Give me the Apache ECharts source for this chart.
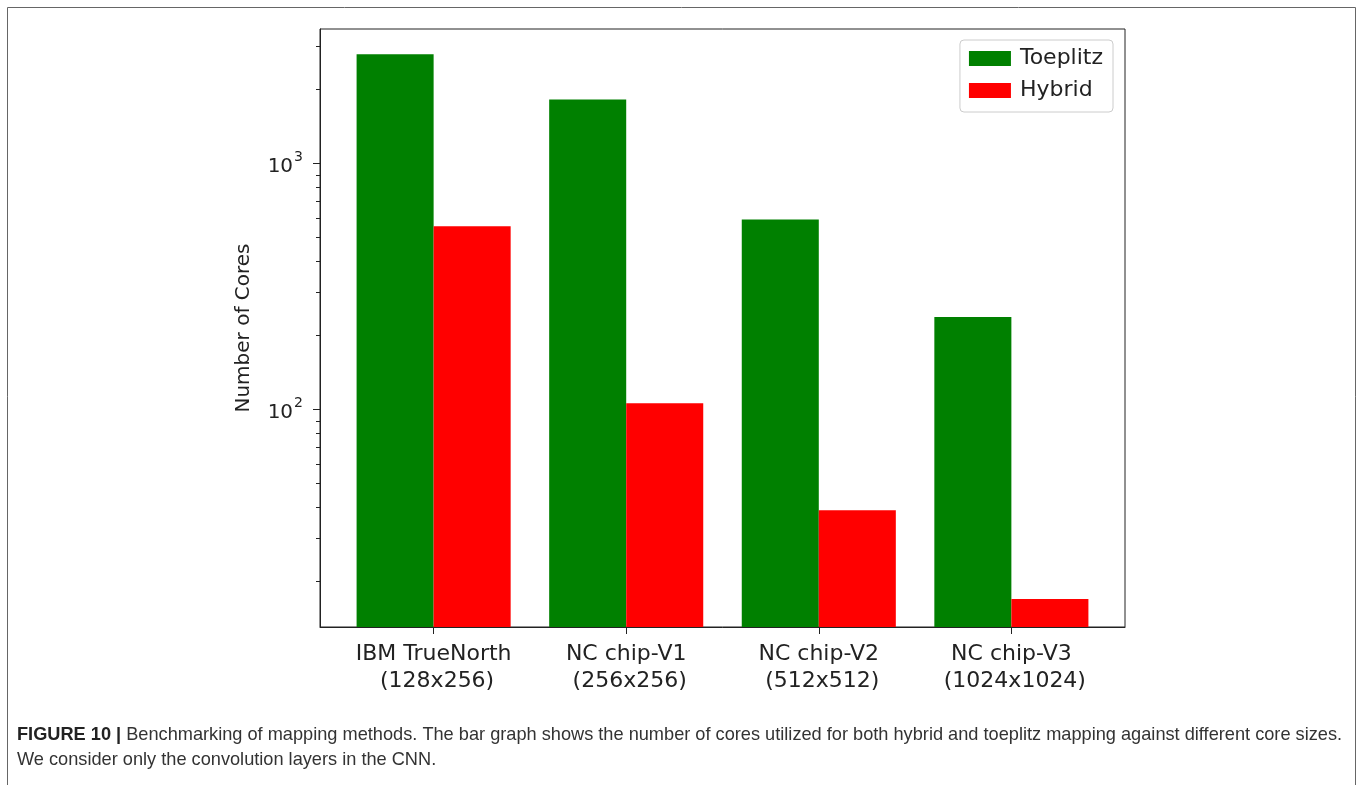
<!DOCTYPE html>
<html>
<head>
<meta charset="utf-8">
<title>Number of cores per mapping method</title>
<script src="https://cdn.jsdelivr.net/npm/echarts@6/dist/echarts.min.js"></script>
<style>
  html, body { margin: 0; padding: 0; background: #ffffff; }
  #chart { width: 1358px; height: 785px; }
</style>
</head>
<body>
<div id="chart"></div>
<script>
// Core sizes compared (x axis categories)
const categories = [
  'IBM TrueNorth\n (128x256)',
  'NC chip-V1\n (256x256)',
  'NC chip-V2\n (512x512)',
  'NC chip-V3\n (1024x1024)'
];

// Number of cores used by each mapping method
const toeplitzCores = [2782, 1821, 592, 238];
const hybridCores = [556, 106, 39, 17];

// Log axis range and tick values
const yMin = 13.07;
const yMax = 3524;
const yMajorTicks = [100, 1000];
const yMinorTicks = [20, 30, 40, 50, 60, 70, 80, 90, 200, 300, 400, 500, 600, 700, 800, 900, 2000, 3000];

// Category positions on a numeric x axis, with padding around the outer bars
const xMin = -0.59;
const xMax = 3.59;
const barFraction = 0.4;

const captionBold = 'FIGURE 10 |';
const captionLine1 = ' Benchmarking of mapping methods. The bar graph shows the number of cores utilized for both hybrid and toeplitz mapping against different core sizes.';
const captionLine2 = 'We consider only the convolution layers in the CNN.';

const GRID = { left: 320, top: 29, width: 805, height: 598 };
const barPx = barFraction * GRID.width / (xMax - xMin);
const xPositions = categories.map((c, i) => i);

const tickFont = 'DejaVu Sans';
const captionFont = '"Liberation Sans", Arial, sans-serif';
const textColor = '#222222';

const chart = echarts.init(document.getElementById('chart'), null, { renderer: 'canvas' });

const supLabel = v => {
  const p = Math.round(Math.log10(v));
  return '{b|10}{s|' + p + '}';
};

const option = {
  backgroundColor: '#ffffff',
  animation: false,
  grid: {
    left: GRID.left, top: GRID.top, width: GRID.width, height: GRID.height,
    show: true, borderColor: '#222222', borderWidth: 1, backgroundColor: 'transparent',
    containLabel: false
  },
  legend: {
    orient: 'vertical',
    right: 1358 - 1113,
    top: 40,
    padding: [6, 10, 9, 9],
    itemGap: 7,
    itemWidth: 42,
    itemHeight: 15,
    borderColor: '#cccccc',
    borderWidth: 1,
    borderRadius: 4,
    backgroundColor: 'rgba(255,255,255,0.8)',
    icon: 'rect',
    textStyle: { fontFamily: tickFont, fontSize: 22, color: textColor, lineHeight: 25, padding: [0, 0, 0, 4] },
    data: ['Toeplitz', 'Hybrid']
  },
  xAxis: {
    type: 'value',
    min: xMin,
    max: xMax,
    splitLine: { show: false },
    axisLine: { show: true, onZero: false, lineStyle: { color: '#222222', width: 1 } },
    axisTick: { show: true, length: 7, customValues: xPositions, lineStyle: { color: '#222222', width: 1 } },
    axisLabel: {
      customValues: xPositions,
      formatter: v => categories[Math.round(v)],
      fontFamily: tickFont, fontSize: 22, color: textColor, lineHeight: 27, margin: 14, align: 'center'
    }
  },
  yAxis: [
    {
      type: 'log',
      logBase: 10,
      min: yMin,
      max: yMax,
      startValue: yMin,
      name: 'Number of Cores',
      nameLocation: 'middle',
      nameGap: 66,
      nameTextStyle: { fontFamily: tickFont, fontSize: 20, color: textColor },
      splitLine: { show: false },
      axisLine: { show: true, onZero: false, lineStyle: { color: '#222222', width: 1 } },
      axisTick: { show: true, length: 7, customValues: yMajorTicks, lineStyle: { color: '#222222', width: 1 } },
      axisLabel: {
        customValues: yMajorTicks,
        formatter: supLabel,
        margin: 17,
        rich: {
          b: { fontFamily: tickFont, fontSize: 20, color: textColor, lineHeight: 26, verticalAlign: 'bottom' },
          s: { fontFamily: tickFont, fontSize: 14, color: textColor, lineHeight: 26, verticalAlign: 'top', padding: [0, 0, 10, 1] }
        }
      }
    },
    {
      type: 'log',
      logBase: 10,
      min: yMin,
      max: yMax,
      position: 'left',
      splitLine: { show: false },
      axisLine: { show: false, onZero: false },
      axisTick: { show: true, length: 4, customValues: yMinorTicks, lineStyle: { color: '#222222', width: 1 } },
      axisLabel: { show: false }
    }
  ],
  series: [
    {
      name: 'Toeplitz',
      type: 'bar',
      xAxisIndex: 0,
      yAxisIndex: 0,
      barWidth: barPx,
      barGap: '0%',
      clip: true,
      itemStyle: { color: '#008000' },
      data: xPositions.map(i => [i, toeplitzCores[i]])
    },
    {
      name: 'Hybrid',
      type: 'bar',
      xAxisIndex: 0,
      yAxisIndex: 0,
      barWidth: barPx,
      barGap: '0%',
      clip: true,
      itemStyle: { color: '#ff0000' },
      data: xPositions.map(i => [i, hybridCores[i]])
    }
  ],
  graphic: [
    {
      type: 'rect',
      silent: true,
      shape: { x: 7.5, y: 7.5, width: 1348, height: 800 },
      style: { fill: 'none', stroke: '#666666', lineWidth: 1 }
    },
    {
      type: 'text',
      left: 17,
      top: 726,
      style: {
        text: '{b|' + captionBold + '}{r|' + captionLine1 + '}',
        rich: {
          b: { fontFamily: captionFont, fontWeight: 'bold', fontSize: 18.2, fill: '#222222' },
          r: { fontFamily: captionFont, fontSize: 18.2, fill: '#333333' }
        }
      }
    },
    {
      type: 'text',
      left: 17,
      top: 751,
      style: {
        text: captionLine2,
        fontFamily: captionFont,
        fontSize: 18.2,
        fill: '#333333'
      }
    }
  ]
};

chart.setOption(option);
</script>
</body>
</html>
